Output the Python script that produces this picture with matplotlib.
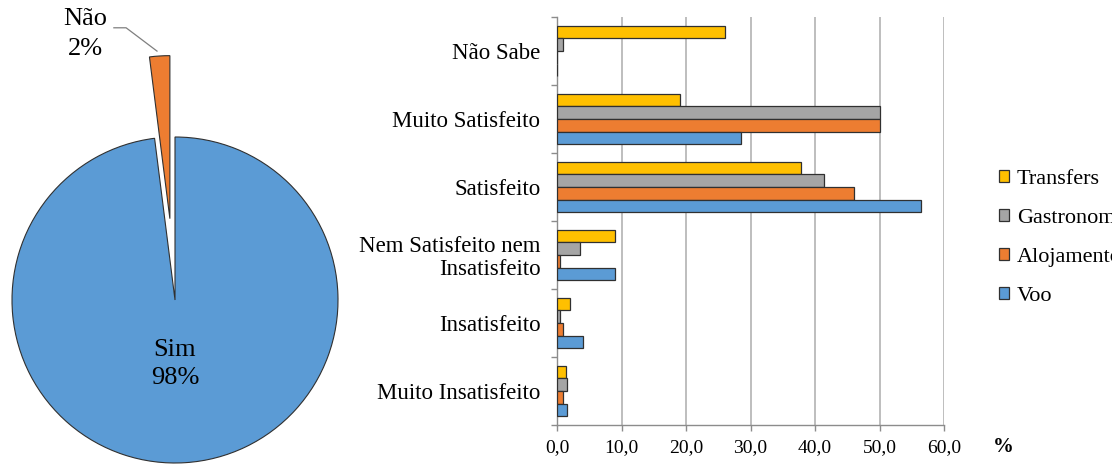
import matplotlib
matplotlib.use('Agg')
import matplotlib.pyplot as plt
import numpy as np

plt.rcParams['font.family'] = ['Liberation Serif', 'DejaVu Serif']

# Pie: would travel again?
pie_labels = ['Sim', 'Não']
pie_values = [98, 2]
pie_colors = ['#5B9BD5', '#ED7D31']

# Satisfaction per service (%)
categories = ['Não Sabe', 'Muito Satisfeito', 'Satisfeito',
              'Nem Satisfeito nem\nInsatisfeito', 'Insatisfeito', 'Muito Insatisfeito']
series_names = ['Transfers', 'Gastronomia', 'Alojamento', 'Voo']
transfers = [26.0, 19.0, 37.8, 9.0, 2.0, 1.4]
gastronomia = [1.0, 50.0, 41.4, 3.5, 0.5, 1.5]
alojamento = [0.0, 50.0, 46.0, 0.5, 1.0, 1.0]
voo = [0.0, 28.5, 56.5, 9.0, 4.0, 1.5]
series_colors = ['#FFC000', '#A5A5A5', '#ED7D31', '#5B9BD5']
x_ticks = [0, 10, 20, 30, 40, 50, 60]
x_ticklabels = ['0,0', '10,0', '20,0', '30,0', '40,0', '50,0', '60,0']

W, H = 1112, 466
fig = plt.figure(figsize=(W / 100, H / 100), dpi=100)

# ---- pie ----
R = 163.0  # radius in px
cx, cy = 175.0, 300.0
axp = fig.add_axes([0, 0, 350 / W, 1])
explode = [0, 0.5]
wedges, _ = axp.pie(pie_values, colors=pie_colors, startangle=90, counterclock=False,
                    explode=explode, radius=1,
                    wedgeprops=dict(edgecolor='#303030', linewidth=0.8))
axp.set_aspect('auto')
axp.set_xlim(-cx / R, (350 - cx) / R)
axp.set_ylim(-(H - cy) / R, cy / R)
axp.axis('off')

axp.text(0, -0.39, f'{pie_labels[0]}\n{pie_values[0]}%', ha='center', va='center',
         fontsize=19, linespacing=1.35)

# leader line from the "Não" label to the exploded wedge
w = wedges[1]
mid = np.deg2rad((w.theta1 + w.theta2) / 2)
tip = (w.center[0] + 1.02 * np.cos(mid), w.center[1] + 1.02 * np.sin(mid))
axp.text(-0.552, 1.632, f'{pie_labels[1]}\n{pie_values[1]}%', ha='center', va='center',
         fontsize=19, linespacing=1.45)
axp.plot([-0.375, -0.30, tip[0] - 0.015], [1.67, 1.67, tip[1] + 0.01],
         color='#7f7f7f', lw=0.9)

# ---- bars ----
axb = fig.add_axes([557 / W, (H - 425) / H, 387 / W, 408 / H])
y = np.arange(len(categories))
h = 0.184
values = [transfers, gastronomia, alojamento, voo]
for i, (name, vals, col) in enumerate(zip(series_names, values, series_colors)):
    axb.barh(y + (i - 1.5) * h, vals, height=h, color=col, edgecolor='#303030',
             linewidth=0.9, label=name, zorder=3)

axb.set_ylim(len(categories) - 0.5, -0.5)
axb.set_xlim(0, 60)
axb.set_xticks(x_ticks)
axb.set_xticklabels(x_ticklabels, fontsize=14)
axb.set_yticks(y)
axb.set_yticklabels(categories, fontsize=16.5, linespacing=1.1)
axb.set_yticks(np.arange(len(categories) + 1) - 0.5, minor=True)
axb.tick_params(axis='y', which='major', length=0, pad=12)
axb.tick_params(axis='y', which='minor', length=4, color='#8c8c8c', width=1)
axb.tick_params(axis='x', length=4, color='#8c8c8c', width=1, pad=6)
axb.grid(axis='x', color='#b3b3b3', linewidth=1.2, zorder=0)
for s in ['top', 'right']:
    axb.spines[s].set_visible(False)
for s in ['left', 'bottom']:
    axb.spines[s].set_color('#8c8c8c')
    axb.spines[s].set_linewidth(1)

fig.text(1003 / W, 1 - 447 / H, '%', fontsize=15, fontweight='bold', ha='center', va='center')

leg = fig.legend(loc='upper left', bbox_to_anchor=(999 / W, 1 - 170 / H), frameon=False,
                 fontsize=16, handlelength=0.45, handleheight=0.45, handletextpad=0.35,
                 labelspacing=0.9, borderpad=0, borderaxespad=0)

fig.savefig('out.png', dpi=100)
